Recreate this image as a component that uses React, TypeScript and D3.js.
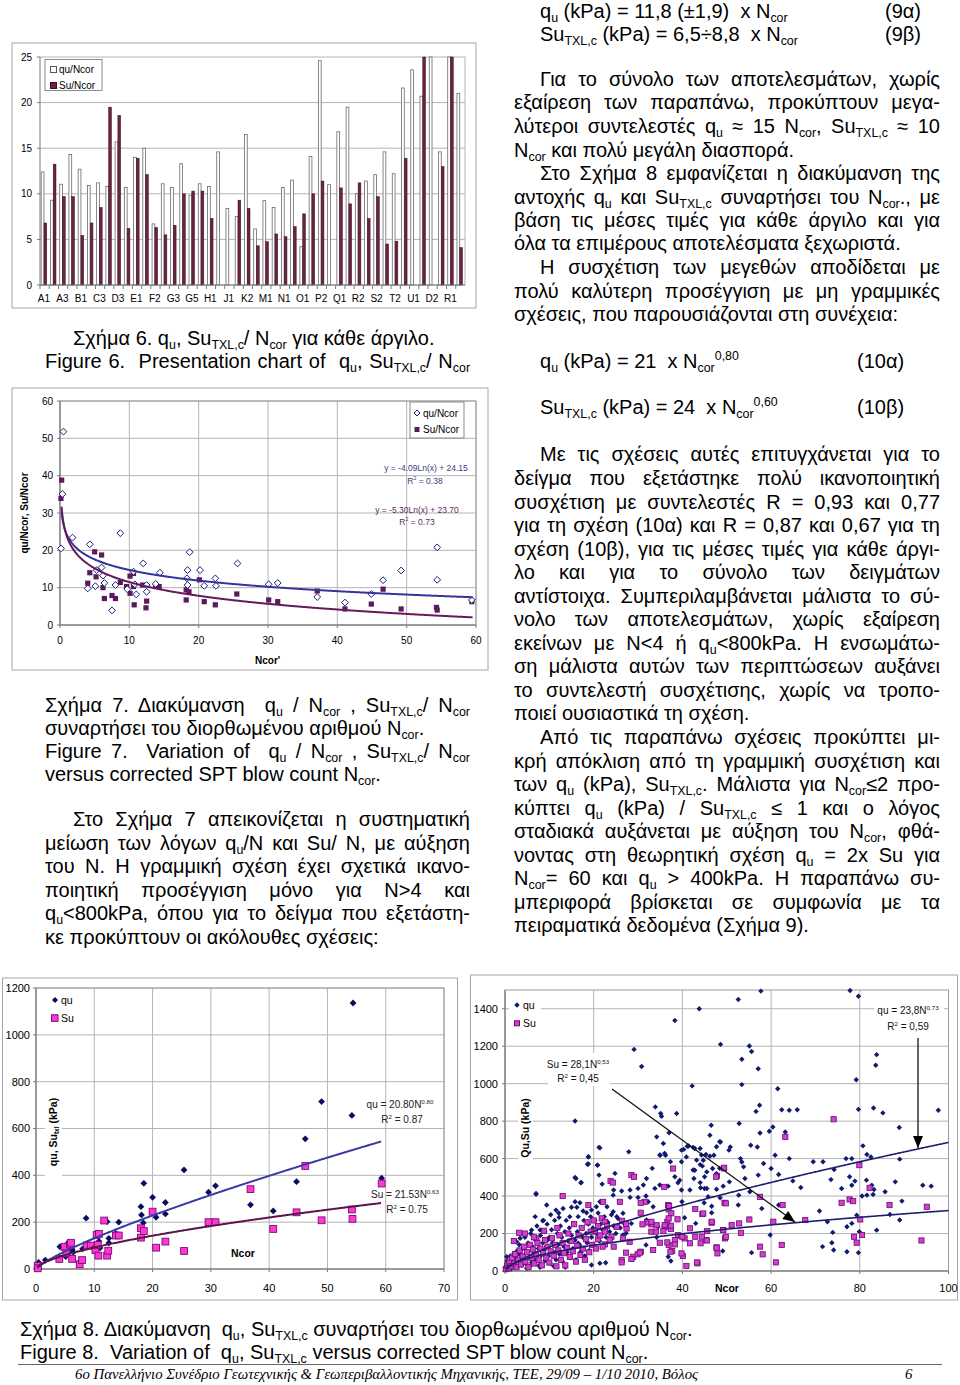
import React, { useEffect, useRef } from 'react';
import * as d3 from 'd3';

// ---------- Σχήμα 6: λόγοι ανά άργιλο (ετικέτα κάθε δεύτερη κατηγορία) ----------
const barCats = ['A1', 'A2', 'A3', 'A4', 'B1', 'B2', 'C3', 'C4', 'D3', 'D4', 'E1', 'E2', 'F2', 'F3', 'G3', 'G4', 'G5', 'G6', 'H1', 'H2', 'J1', 'J2', 'K2', 'K3', 'M1', 'M2', 'N1', 'N2', 'O1', 'O2', 'P2', 'P3', 'Q1', 'Q2', 'R2', 'R3', 'S2', 'S3', 'T2', 'T3', 'U1', 'U2', 'D2', 'D5', 'R1', 'R4'];
const barQuN = [12.4, 9.3, 11.05, 14.3, 12.7, 10.9, 11.2, 10.8, 15.7, 10.7, 14.0, 15.0, 6.7, 11.1, 10.7, 13.3, 9.85, 11.1, 10.8, 14.6, 8.4, 7.5, 16.5, 6.15, 9.25, 8.5, 10.7, 11.5, 4.2, 14.1, 24.6, 11.0, 16.8, 19.5, 10.0, 11.4, 12.1, 14.6, 12.2, 21.6, 23.6, 20.7, 28, 14.6, 27, 21.0];
const barSuN = [6.8, 13.25, 9.7, 9.7, 5.45, 6.8, 8.5, 19.5, 18.6, 6.2, 13.9, 12.1, 6.3, 5.5, 6.55, 10.0, 10.3, 10.3, 7.3, 0, 0, 9.3, 8.4, 4.3, 4.75, 5.6, 5.3, 6.4, 7.8, 10.0, 11.4, 0, 10.65, 8.9, 11.2, 7.3, 9.7, 4.5, 4.8, 13.9, 0, 28, 0, 13.0, 32, 4.1];
const ticks6Y = [0, 5, 10, 15, 20, 25];

// ---------- Σχήμα 7: qu/Ncor, Su/Ncor συναρτήσει Ncor ----------
const ratioQu: [number, number][] = [
  [0.5, 51.8], [0.35, 35.1], [0.15, 20.5], [1.8, 23.4], [4.3, 21.6], [4.0, 9.8], [5.1, 10.4], [5.3, 14.7], [6.0, 15.4], [6.2, 13.2],
  [6.4, 11.25], [7.5, 3.9], [8.0, 10.7], [8.7, 24.6], [9.7, 9.6], [10.6, 14.3], [10.8, 10.9], [11.0, 8.2], [12.0, 16.5], [12.5, 8.9],
  [12.5, 10.7], [13.8, 11.0], [14.4, 14.0], [18.4, 14.7], [18.4, 10.7], [18.3, 12.5], [18.7, 19.5], [20.2, 14.7], [20.8, 10.5], [22.4, 12.5],
  [22.5, 10.5], [25.6, 16.5], [30.1, 10.9], [31.4, 11.25], [37.1, 7.5], [41.1, 6.0], [44.9, 8.3], [46.6, 12.0], [49.2, 14.6], [54.4, 20.8],
  [54.4, 12.1], [59.4, 6.7],
];
const ratioSu: [number, number][] = [
  [0.24, 38.8], [0.14, 33.9], [4.3, 14.0], [4.0, 11.2], [5.0, 19.6], [5.2, 12.9], [6.0, 18.75], [6.2, 10.0], [6.4, 7.1], [7.5, 7.9],
  [8.0, 7.1], [8.7, 11.4], [9.6, 10.3], [10.1, 13.1], [10.1, 8.5], [10.6, 13.8], [10.6, 10.3], [10.7, 5.4], [11.9, 10.7], [12.4, 4.6],
  [12.5, 6.4], [13.8, 10.4], [14.3, 10.3], [18.2, 9.4], [18.2, 6.7], [18.6, 8.9], [20.1, 12.1], [20.8, 6.25], [22.4, 5.4], [25.5, 8.3],
  [30.1, 6.7], [31.4, 6.25], [37.1, 9.1], [41.1, 4.3], [44.9, 5.6], [46.6, 9.6], [49.2, 4.3], [54.3, 4.7], [54.4, 4.0], [59.4, 6.25],
];
const trend7Qu = [-4.09, 24.15];
const trend7Su = [-5.30, 23.70];
const ticks7 = [0, 10, 20, 30, 40, 50, 60];

// ---------- Σχήμα 8 (αριστερά): μέσες τιμές ανά άργιλο ----------
const qu8a: [number, number][] = [
  [0.45, 28], [0.35, 12], [0.15, 3], [1.6, 38], [4.0, 39], [4.1, 95], [5.1, 53], [5.2, 103], [5.3, 78], [5.5, 67],
  [6.1, 88], [6.2, 82], [6.4, 72], [7.5, 29], [8.0, 86], [8.6, 217], [9.7, 93], [10.6, 152], [10.8, 118], [11.0, 90],
  [12.2, 202], [12.5, 111], [12.5, 131], [13.7, 152], [14.2, 200], [18.0, 266], [18.1, 231], [18.4, 197], [18.5, 366], [20.0, 306],
  [20.6, 221], [22.2, 284], [22.2, 235], [25.4, 423], [29.6, 328], [30.8, 355], [36.8, 274], [40.7, 248], [44.7, 373], [46.2, 556],
  [49.0, 715], [54.2, 656], [54.4, 1136], [59.3, 388],
];
const su8a: [number, number][] = [
  [0.3, 14], [0.3, 3], [4.0, 43], [4.9, 95], [5.2, 67], [5.8, 105], [6.0, 112], [6.2, 43], [7.5, 20], [7.9, 38],
  [8.7, 100], [9.4, 100], [10.2, 81], [10.6, 103], [10.4, 145], [10.8, 150], [10.7, 57], [12.2, 57], [12.4, 78], [11.7, 207],
  [13.7, 143], [14.2, 143], [18.0, 134], [18.0, 174], [18.5, 162], [20.0, 245], [20.6, 91], [22.2, 117], [25.4, 77], [29.6, 200],
  [30.8, 200], [36.8, 341], [40.7, 171], [44.7, 242], [46.2, 440], [49.0, 208], [54.3, 214], [54.2, 254], [59.3, 365],
];
const trend8aQu = [20.80, 0.80];
const trend8aSu = [21.53, 0.63];
const ticks8aX = [0, 10, 20, 30, 40, 50, 60, 70];
const ticks8aY = [0, 200, 400, 600, 800, 1000, 1200];

// ---------- Σχήμα 8 (δεξιά): όλα τα επιμέρους αποτελέσματα ----------
const qu8b: [number, number][] = [
  [43.8, 1400], [38.3, 1337], [29.1, 1183], [30.8, 1092], [42.2, 988], [15.8, 801], [33.9, 876], [35.1, 841], [35.3, 826], [38.7, 841],
  [46.5, 778], [46.2, 725], [34.2, 716], [37.0, 738], [36.2, 618], [35.0, 618], [7.0, 410], [21.4, 657], [18.8, 609], [18.6, 570],
  [20.9, 565], [15.8, 499], [17.2, 472], [27.9, 636], [48.4, 690], [50.5, 645], [47.7, 663], [35.7, 681], [36.0, 628], [34.9, 619],
  [40.3, 649], [41.4, 667], [42.4, 660], [44.3, 619], [46.2, 613], [37.3, 583], [39.8, 583], [43.2, 592], [33.2, 548], [42.4, 539],
  [44.5, 560], [48.4, 548], [38.3, 503], [39.4, 485], [42.6, 494], [45.0, 503], [31.9, 494], [31.2, 459], [30.0, 441], [33.8, 441],
  [34.9, 459], [36.8, 453], [39.0, 471], [39.8, 432], [41.7, 432], [44.1, 444], [47.7, 436], [28.2, 432], [26.3, 427], [24.5, 432],
  [28.2, 393], [30.0, 393], [32.3, 370], [31.8, 400], [33.4, 343], [39.9, 370], [45.8, 396], [46.6, 311], [24.4, 316], [25.2, 290],
  [26.6, 308], [28.5, 254], [34.5, 236], [37.2, 228], [40.5, 284], [43.0, 254], [31.9, 272], [27.3, 201], [26.6, 192], [34.2, 180],
  [31.8, 139], [36.8, 76], [37.4, 53], [44.7, 591], [42.8, 538], [40.9, 609], [41.1, 666], [39.8, 645], [42.8, 654], [45.0, 440],
  [52.6, 1449], [57.7, 1494], [77.8, 1497], [79.7, 1467], [48.6, 1210], [55.1, 1201], [55.6, 1172], [53.4, 1130], [57.1, 1080], [83.8, 1155],
  [83.6, 1098], [53.4, 995], [61.5, 973], [79.2, 1021], [57.4, 885], [56.6, 852], [62.4, 861], [64.1, 858], [65.9, 861], [79.7, 863],
  [83.1, 870], [85.2, 844], [97.7, 858], [52.8, 787], [57.5, 737], [59.6, 746], [60.4, 769], [63.2, 742], [88.9, 766], [48.6, 689],
  [50.8, 662], [55.4, 671], [56.9, 662], [64.1, 600], [60.9, 618], [58.3, 574], [53.1, 600], [53.4, 582], [53.8, 556], [47.1, 618],
  [46.8, 547], [47.7, 520], [49.2, 453], [50.6, 476], [54.1, 494], [55.2, 423], [57.1, 512], [60.0, 547], [61.7, 515], [64.9, 481],
  [66.7, 446], [69.5, 583], [71.7, 583], [73.5, 488], [74.2, 542], [75.9, 440], [76.9, 600], [78.2, 600], [77.7, 503], [78.2, 458],
  [78.9, 480], [80.7, 668], [81.6, 622], [82.5, 609], [81.5, 485], [82.7, 458], [83.2, 435], [83.0, 408], [80.5, 400], [81.6, 405],
  [79.3, 298], [85.7, 423], [88.0, 476], [89.0, 597], [89.5, 373], [94.2, 458], [96.1, 453], [86.8, 302], [83.8, 218], [89.0, 272],
  [70.9, 320], [72.7, 263], [73.9, 206], [77.1, 236], [78.2, 254], [79.9, 210], [71.6, 130], [73.7, 151], [74.1, 112], [77.1, 103],
  [79.7, 98], [59.8, 192], [57.9, 334], [55.6, 98], [49.1, 107], [46.6, 346], [48.5, 391], [44.9, 364], [45.5, 529], [45.5, 440],
  [61.7, 352], [52.6, 352], [52.7, 405], [45.3, 622], [44.0, 654], [44.0, 568], [44.0, 472],
  [21.2, 660], [18.8, 610], [18.8, 571], [20.8, 565], [16.0, 494], [17.1, 471], [21.2, 512], [21.9, 464], [24.8, 521], [7.0, 414],
  [9.4, 352], [13.1, 334], [15.0, 340], [15.8, 370], [16.9, 364], [11.5, 325], [8.5, 268], [6.0, 219], [7.9, 219], [12.2, 286],
  [14.6, 290], [18.4, 311], [19.5, 325], [20.6, 343], [21.4, 370], [23.0, 343], [24.4, 405], [2.6, 156], [3.0, 94], [0.4, 76],
  [0, 16], [19.5, 32], [21.4, 41], [22.7, 44], [17.3, 112], [16.5, 148],
  [0.3, 30], [0.5, 55], [0.8, 20], [1.0, 45], [1.2, 80], [1.5, 35], [1.8, 60], [2.0, 95], [2.2, 25], [2.5, 70],
  [2.8, 110], [3.0, 50], [3.2, 140], [0.2, 5], [1.3, 10], [3.5, 85], [3.8, 30], [4.0, 120], [4.2, 65], [4.5, 180],
  [4.7, 40], [5.0, 100], [5.2, 150], [5.5, 75], [5.8, 200], [6.0, 45], [6.2, 130], [3.4, 175], [4.9, 15], [5.6, 25],
  [6.5, 95], [6.7, 170], [7.0, 60], [7.2, 240], [7.5, 120], [7.7, 30], [8.0, 190], [8.2, 85], [8.5, 150], [8.7, 270],
  [9.0, 55], [9.0, 210], [6.8, 290], [7.9, 20], [8.8, 110], [9.3, 130], [9.5, 250], [9.8, 80], [10.0, 180], [10.2, 40],
  [10.5, 220], [10.7, 150], [11.0, 100], [11.2, 270], [11.5, 60], [11.8, 200], [12.0, 140], [10.3, 300], [11.0, 25], [9.6, 165],
  [12.3, 90], [12.5, 240], [12.8, 180], [13.0, 50], [13.3, 130], [13.5, 210], [13.8, 270], [14.0, 100], [14.2, 160], [14.5, 230],
  [14.8, 70], [15.0, 190], [13.6, 20], [12.1, 310], [15.3, 120], [15.5, 250], [15.8, 165], [16.0, 60], [16.3, 210], [16.5, 290],
  [16.8, 140], [17.0, 100], [17.3, 230], [17.5, 180], [17.8, 270], [18.0, 80], [16.2, 340], [17.6, 320], [18.3, 200], [18.5, 150],
  [18.8, 250], [19.0, 110], [19.3, 290], [19.5, 180], [19.8, 230], [20.0, 140], [20.3, 270], [20.6, 200], [21.0, 310], [21.3, 160],
  [21.6, 250], [22.0, 220], [22.4, 290], [22.8, 180], [23.2, 260], [23.6, 210], [24.0, 300], [24.5, 240], [25.0, 200], [25.5, 280],
  [26.0, 230], [26.5, 170], [27.0, 250],
];
const su8b: [number, number][] = [
  [37.9, 547], [35.9, 449], [36.8, 352], [36.9, 329], [28.5, 512], [29.1, 503], [13.0, 400], [23.8, 481], [24.3, 472], [25.9, 369],
  [22.1, 369], [31.5, 369], [30.6, 364], [33.0, 249], [39.0, 192], [39.8, 186], [40.5, 174], [40.1, 80], [40.9, 27], [43.4, 41],
  [36.0, 233], [36.6, 263], [37.4, 224], [36.9, 139], [37.7, 107], [33.0, 210], [32.1, 259], [26.4, 268], [27.4, 227], [28.1, 156],
  [28.9, 76], [29.9, 89], [30.6, 103], [26.3, 59], [24.0, 183], [22.5, 142], [21.0, 169], [20.3, 213], [21.8, 281], [22.5, 263],
  [18.8, 352], [3.2, 204], [7.1, 174], [49.4, 548], [47.8, 508], [37.0, 347], [37.5, 308], [42.9, 331], [44.5, 304], [49.5, 364],
  [30.6, 311], [33.0, 263], [31.0, 249], [27.3, 251], [25.2, 236], [34.2, 245], [36.0, 245], [37.4, 242], [34.0, 210], [35.7, 213],
  [36.9, 281], [38.9, 276], [41.7, 228], [42.9, 183], [40.0, 183], [45.4, 165], [44.1, 148], [41.7, 148], [38.3, 165], [38.3, 142],
  [36.6, 153], [34.9, 151], [33.4, 112], [39.8, 94], [37.3, 103], [30.4, 98], [28.5, 64], [27.3, 98], [26.3, 46], [43.3, 46],
  [47.7, 126], [46.6, 258], [49.2, 219], [23.6, 165], [24.5, 130], [26.6, 174],
  [74.1, 810], [63.2, 716], [79.9, 565], [49.4, 551], [47.6, 503], [57.5, 396], [49.8, 361], [62.6, 352], [82.2, 444], [75.9, 364],
  [77.7, 382], [78.5, 373], [86.7, 352], [95.1, 343], [67.7, 272], [60.5, 263], [55.1, 275], [52.8, 254], [51.1, 245], [49.2, 218],
  [45.6, 213], [44.7, 307], [46.6, 263], [44.4, 183], [45.5, 163], [49.6, 174], [49.8, 183], [53.2, 204], [80.1, 275], [80.5, 192],
  [78.7, 183], [79.3, 151], [93.9, 163], [47.7, 124], [47.9, 94], [57.5, 130], [58.1, 89], [61.1, 46], [62.4, 139],
  [0.2, 10], [0.5, 30], [0.8, 15], [1.0, 50], [1.3, 25], [1.6, 70], [2.0, 40], [2.3, 90], [2.6, 20], [3.0, 60],
  [3.3, 110], [3.6, 35], [4.0, 80], [4.3, 130], [4.6, 50], [5.0, 100], [5.3, 20], [5.6, 140], [6.0, 70], [6.3, 115],
  [6.6, 40], [7.0, 90], [7.3, 150], [7.6, 60], [8.0, 120], [8.3, 30], [8.6, 95], [9.0, 165], [9.3, 70], [9.6, 130],
  [10.0, 45], [10.3, 105], [10.6, 175], [11.0, 80], [11.3, 140], [11.6, 25], [12.0, 110], [12.3, 190], [12.6, 60], [13.0, 150],
  [13.3, 95], [13.6, 30], [14.0, 125], [14.3, 200], [14.6, 75], [15.0, 160], [15.3, 105], [15.6, 250], [16.0, 50], [16.3, 135],
  [16.6, 190], [17.0, 85], [17.3, 230], [17.6, 120], [18.0, 60], [18.3, 170], [18.6, 260], [19.0, 100], [19.3, 210], [19.6, 140],
  [20.0, 270], [20.5, 120], [21.0, 240], [21.5, 190], [22.0, 130], [22.5, 210], [23.0, 240], [4.5, 200], [2.0, 160], [6.5, 180],
  [8.8, 215], [11.8, 230],
];
const trend8bQu = [23.8, 0.73];
const trend8bSu = [28.1, 0.53];
const ticks8bX = [0, 20, 40, 60, 80, 100];
const ticks8bY = [0, 200, 400, 600, 800, 1000, 1200, 1400];

const FONT = '"Liberation Sans", Arial, Helvetica, sans-serif';
const SERIF = '"Liberation Serif", "Times New Roman", serif';

// κείμενο σελίδας: [κείμενο, x, γραμμή βάσης, δεξί όριο στοίχισης]
type Line = [string, number, number, number?];
const rightCol: Line[] = [
  ['Για το σύνολο των αποτελεσμάτων, χωρίς', 540, 86, 940],
  ['εξαίρεση των παραπάνω, προκύπτουν μεγα-', 514, 109, 940],
  ['λύτεροι συντελεστές q_{u} ≈ 15 N_{cor}, Su_{TXL,c} ≈ 10', 514, 133, 940],
  ['N_{cor} και πολύ μεγάλη διασπορά.', 514, 157],
  ['Στο Σχήμα 8 εμφανίζεται η διακύμανση της', 540, 180, 940],
  ['αντοχής q_{u} και Su_{TXL,c} συναρτήσει του N_{cor}., με', 514, 204, 940],
  ['βάση τις μέσες τιμές για κάθε άργιλο και για', 514, 227, 940],
  ['όλα τα επιμέρους αποτελέσματα ξεχωριστά.', 514, 250],
  ['Η συσχέτιση των μεγεθών αποδίδεται με', 540, 274, 940],
  ['πολύ καλύτερη προσέγγιση με μη γραμμικές', 514, 298, 940],
  ['σχέσεις, που παρουσιάζονται στη συνέχεια:', 514, 321],
  ['Με τις σχέσεις αυτές επιτυγχάνεται για το', 540, 461, 940],
  ['δείγμα που εξετάστηκε πολύ ικανοποιητική', 514, 485, 940],
  ['συσχέτιση με συντελεστές R = 0,93 και 0,77', 514, 509, 940],
  ['για τη σχέση (10α) και R = 0,87 και 0,67 για τη', 514, 532, 940],
  ['σχέση (10β), για τις μέσες τιμές για κάθε άργι-', 514, 556, 940],
  ['λο και για το σύνολο των δειγμάτων', 514, 579, 940],
  ['αντίστοιχα. Συμπεριλαμβάνεται μάλιστα το σύ-', 514, 603, 940],
  ['νολο των αποτελεσμάτων, χωρίς εξαίρεση', 514, 626, 940],
  ['εκείνων με N<4 ή q_{u}<800kPa. Η ενσωμάτω-', 514, 650, 940],
  ['ση μάλιστα αυτών των περιπτώσεων αυξάνει', 514, 673, 940],
  ['το συντελεστή συσχέτισης, χωρίς να τροπο-', 514, 697, 940],
  ['ποιεί ουσιαστικά τη σχέση.', 514, 720],
  ['Από τις παραπάνω σχέσεις προκύπτει μι-', 540, 744, 940],
  ['κρή απόκλιση από τη γραμμική συσχέτιση και', 514, 768, 940],
  ['των q_{u} (kPa), Su_{TXL,c}. Μάλιστα για N_{cor}≤2 προ-', 514, 791, 940],
  ['κύπτει q_{u} (kPa) / Su_{TXL,c} ≤ 1 και ο λόγος', 514, 815, 940],
  ['σταδιακά αυξάνεται με αύξηση του N_{cor}, φθά-', 514, 838, 940],
  ['νοντας στη θεωρητική σχέση q_{u} = 2x Su για', 514, 862, 940],
  ['N_{cor}= 60 και q_{u} > 400kPa. Η παραπάνω συ-', 514, 885, 940],
  ['μπεριφορά βρίσκεται σε συμφωνία με τα', 514, 909, 940],
  ['πειραματικά δεδομένα (Σχήμα 9).', 514, 932],
];
const leftCol: Line[] = [
  ['Σχήμα 6. q_{u}, Su_{TXL,c}/ N_{cor} για κάθε άργιλο.', 73, 345],
  ['Figure 6.  Presentation chart of  q_{u}, Su_{TXL,c}/ N_{cor}', 45, 368, 470],
  ['Σχήμα 7. Διακύμανση  q_{u} / N_{cor} , Su_{TXL,c}/ N_{cor}', 45, 712, 470],
  ['συναρτήσει του διορθωμένου αριθμού N_{cor}.', 45, 735],
  ['Figure 7.  Variation of  q_{u} / N_{cor} , Su_{TXL,c}/ N_{cor}', 45, 758, 470],
  ['versus corrected SPT blow count N_{cor}.', 45, 781],
  ['Στο Σχήμα 7 απεικονίζεται η συστηματική', 73, 826, 470],
  ['μείωση των λόγων q_{u}/N και Su/ N, με αύξηση', 45, 850, 470],
  ['του N. Η γραμμική σχέση έχει σχετικά ικανο-', 45, 873, 470],
  ['ποιητική προσέγγιση μόνο για N>4 και', 45, 897, 470],
  ['q_{u}<800kPa, όπου για το δείγμα που εξετάστη-', 45, 920, 470],
  ['κε προκύπτουν οι ακόλουθες σχέσεις:', 45, 944],
  ['Σχήμα 8. Διακύμανση  q_{u}, Su_{TXL,c} συναρτήσει του διορθωμένου αριθμού N_{cor}.', 20, 1336],
  ['Figure 8.  Variation of  q_{u}, Su_{TXL,c} versus corrected SPT blow count N_{cor}.', 20, 1359],
];
const equations: Line[] = [
  ['q_{u} (kPa) = 11,8 (±1,9)  x N_{cor}', 540, 17.5],
  ['(9α)', 885, 17.5],
  ['Su_{TXL,c} (kPa) = 6,5÷8,8  x N_{cor}', 540, 41],
  ['(9β)', 885, 41],
  ['q_{u} (kPa) = 21  x N_{cor}^{0,80}', 540, 368],
  ['(10α)', 857, 368],
  ['Su_{TXL,c} (kPa) = 24  x N_{cor}^{0,60}', 540, 414],
  ['(10β)', 857, 414],
];

type Part = { t: string; k: 'n' | 'b' | 'p' };
function splitRich(s: string): Part[] {
  const out: Part[] = [];
  const re = /([_^])\{([^}]*)\}/g;
  let last = 0;
  let m: RegExpExecArray | null;
  while ((m = re.exec(s))) {
    if (m.index > last) out.push({ t: s.slice(last, m.index), k: 'n' });
    out.push({ t: m[2], k: m[1] === '_' ? 'b' : 'p' });
    last = re.lastIndex;
  }
  if (last < s.length) out.push({ t: s.slice(last), k: 'n' });
  return out;
}

interface RichOpts {
  size?: number; anchor?: string; width?: number; fill?: string;
  weight?: string | number; italic?: boolean; family?: string;
}

// κείμενο με δείκτες/εκθέτες, προαιρετικά πλήρως στοιχισμένο
function rich(parent: any, x: number, y: number, s: string, o: RichOpts = {}) {
  const size = o.size ?? 20;
  const t = parent.append('text')
    .attr('x', x).attr('y', y)
    .attr('font-family', o.family ?? FONT)
    .attr('font-size', size)
    .attr('fill', o.fill ?? '#000')
    .attr('text-anchor', o.anchor ?? 'start')
    .style('white-space', 'pre');
  if (o.weight) t.attr('font-weight', o.weight);
  if (o.italic) t.attr('font-style', 'italic');
  let shift = 0;
  splitRich(s).forEach(p => {
    const off = p.k === 'b' ? size * 0.2 : p.k === 'p' ? -size * 0.42 : 0;
    t.append('tspan')
      .attr('dy', off - shift)
      .attr('font-size', p.k === 'n' ? size : size * 0.62)
      .text(p.t);
    shift = off;
  });
  if (o.width) {
    const w = (t.node() as SVGTextElement).getComputedTextLength();
    const n = (s.match(/ /g) || []).length;
    if (n > 0) t.attr('word-spacing', (o.width - w) / n);
  }
  return t;
}

const diamond = (r: number) => `M0,${-r}L${r},0L0,${r}L${-r},0Z`;

// πλέγμα, άξονες και ετικέτες για τα διαγράμματα διασποράς
function frame(g: any, x: any, y: any, xt: number[], yt: number[], o: { size: number; yPad: number; xLabelY: number }) {
  const [x0, x1] = x.range();
  const [y0, y1] = y.range();
  yt.forEach(v => g.append('line').attr('x1', x0).attr('x2', x1).attr('y1', y(v)).attr('y2', y(v)).attr('stroke', '#b4b4b4'));
  xt.forEach(v => g.append('line').attr('x1', x(v)).attr('x2', x(v)).attr('y1', y0).attr('y2', y1).attr('stroke', '#b4b4b4'));
  g.append('rect').attr('x', x0).attr('y', y1).attr('width', x1 - x0).attr('height', y0 - y1)
    .attr('fill', 'none').attr('stroke', '#9a9a9a');
  g.append('line').attr('x1', x0).attr('x2', x0).attr('y1', y1).attr('y2', y0).attr('stroke', '#7a7a7a');
  g.append('line').attr('x1', x0).attr('x2', x1).attr('y1', y0).attr('y2', y0).attr('stroke', '#7a7a7a');
  yt.forEach(v => {
    g.append('line').attr('x1', x0 - 3).attr('x2', x0).attr('y1', y(v)).attr('y2', y(v)).attr('stroke', '#7a7a7a');
    g.append('text').attr('x', x0 - o.yPad).attr('y', y(v) + o.size * 0.36).attr('text-anchor', 'end')
      .attr('font-family', FONT).attr('font-size', o.size).text(v);
  });
  xt.forEach(v => {
    g.append('line').attr('x1', x(v)).attr('x2', x(v)).attr('y1', y0).attr('y2', y0 + 3).attr('stroke', '#7a7a7a');
    g.append('text').attr('x', x(v)).attr('y', o.xLabelY).attr('text-anchor', 'middle')
      .attr('font-family', FONT).attr('font-size', o.size).text(v);
  });
}

function whiteBox(g: any, x: number, y: number, w: number, h: number) {
  g.append('rect').attr('x', x).attr('y', y).attr('width', w).attr('height', h).attr('fill', '#fff');
}

function arrow(g: any, xa: number, ya: number, xb: number, yb: number) {
  g.append('line').attr('x1', xa).attr('y1', ya).attr('x2', xb).attr('y2', yb)
    .attr('stroke', '#111').attr('stroke-width', 1.3);
  const ang = Math.atan2(yb - ya, xb - xa);
  const L = 12, W = 5;
  const p = [
    [xb, yb],
    [xb - L * Math.cos(ang) + W * Math.sin(ang), yb - L * Math.sin(ang) - W * Math.cos(ang)],
    [xb - L * Math.cos(ang) - W * Math.sin(ang), yb - L * Math.sin(ang) + W * Math.cos(ang)],
  ];
  g.append('path').attr('d', `M${p.map(q => q.join(',')).join('L')}Z`).attr('fill', '#000');
}

export default function App() {
  const ref = useRef<SVGSVGElement>(null);

  useEffect(() => {
    if (!ref.current) return;
    const svg = d3.select(ref.current);
    svg.selectAll('*').remove();
    svg.append('rect').attr('width', 960).attr('height', 1385).attr('fill', '#fff');

    // ===== Σχήμα 6 =====
    const g6 = svg.append('g');
    g6.append('rect').attr('x', 12).attr('y', 43).attr('width', 464).attr('height', 265)
      .attr('fill', '#fff').attr('stroke', '#a6a6a6');
    const x6 = d3.scaleBand<string>().domain(barCats).range([40, 465]);
    const y6 = d3.scaleLinear().domain([0, 25]).range([285, 57]);
    ticks6Y.forEach(v => {
      g6.append('line').attr('x1', 40).attr('x2', 465).attr('y1', y6(v)).attr('y2', y6(v)).attr('stroke', '#b4b4b4');
      g6.append('line').attr('x1', 37).attr('x2', 40).attr('y1', y6(v)).attr('y2', y6(v)).attr('stroke', '#7a7a7a');
      g6.append('text').attr('x', 32).attr('y', y6(v) + 3.6).attr('text-anchor', 'end')
        .attr('font-family', FONT).attr('font-size', 10).text(v);
    });
    g6.append('line').attr('x1', 465).attr('x2', 465).attr('y1', 57).attr('y2', 285).attr('stroke', '#b4b4b4');
    const bw = x6.bandwidth();
    barCats.forEach((c, i) => {
      const bx = x6(c)!;
      const q = Math.min(barQuN[i], 25);
      const s = Math.min(barSuN[i], 25);
      g6.append('rect').attr('x', bx + bw * 0.13).attr('y', y6(q)).attr('width', bw * 0.3).attr('height', y6(0) - y6(q))
        .attr('fill', '#fff').attr('stroke', '#6a6a6a').attr('stroke-width', 0.8);
      if (s > 0) {
        g6.append('rect').attr('x', bx + bw * 0.43).attr('y', y6(s)).attr('width', bw * 0.3).attr('height', y6(0) - y6(s))
          .attr('fill', '#6b2343').attr('stroke', '#3a1020').attr('stroke-width', 0.5);
      }
      g6.append('line').attr('x1', bx).attr('x2', bx).attr('y1', 285).attr('y2', 289).attr('stroke', '#7a7a7a');
      if (i % 2 === 0) {
        g6.append('text').attr('x', bx + bw * 0.43).attr('y', 302).attr('text-anchor', 'middle')
          .attr('font-family', FONT).attr('font-size', 10).text(c);
      }
    });
    g6.append('line').attr('x1', 40).attr('x2', 40).attr('y1', 57).attr('y2', 285).attr('stroke', '#7a7a7a');
    g6.append('line').attr('x1', 40).attr('x2', 465).attr('y1', 285).attr('y2', 285).attr('stroke', '#7a7a7a');
    g6.append('rect').attr('x', 45).attr('y', 59.5).attr('width', 57).attr('height', 31)
      .attr('fill', '#fff').attr('stroke', '#8a8a8a');
    g6.append('rect').attr('x', 50.5).attr('y', 66.5).attr('width', 6).attr('height', 6).attr('fill', '#fff').attr('stroke', '#555');
    g6.append('rect').attr('x', 50.5).attr('y', 82.5).attr('width', 6).attr('height', 6).attr('fill', '#6b2343').attr('stroke', '#3a1020');
    g6.append('text').attr('x', 59).attr('y', 72.5).attr('font-family', FONT).attr('font-size', 10).text('qu/Ncor');
    g6.append('text').attr('x', 59).attr('y', 88.5).attr('font-family', FONT).attr('font-size', 10).text('Su/Ncor');

    // ===== Σχήμα 7 =====
    const g7 = svg.append('g');
    g7.append('rect').attr('x', 12).attr('y', 388).attr('width', 476).attr('height', 282)
      .attr('fill', '#fff').attr('stroke', '#a6a6a6');
    const x7 = d3.scaleLinear().domain([0, 60]).range([60, 476]);
    const y7 = d3.scaleLinear().domain([0, 60]).range([625, 401]);
    frame(g7, x7, y7, ticks7, ticks7, { size: 10, yPad: 7, xLabelY: 644 });
    ratioSu.forEach(([n, v]) => g7.append('rect').attr('x', x7(n) - 2.6).attr('y', y7(v) - 2.6)
      .attr('width', 5.2).attr('height', 5.2).attr('fill', '#5a1a5c'));
    ratioQu.forEach(([n, v]) => g7.append('path').attr('d', diamond(3.4))
      .attr('transform', `translate(${x7(n)},${y7(v)})`).attr('fill', '#fff').attr('stroke', '#1c1c78').attr('stroke-width', 1));
    const nn7 = d3.range(0.22, 59.6, 0.1);
    const ln7 = (c: number[]) => d3.line<number>().x(n => x7(n)).y(n => y7(c[0] * Math.log(n) + c[1]));
    g7.append('path').attr('d', ln7(trend7Qu)(nn7)).attr('fill', 'none').attr('stroke', '#34349a').attr('stroke-width', 2);
    g7.append('path').attr('d', ln7(trend7Su)(nn7)).attr('fill', 'none').attr('stroke', '#661a5e').attr('stroke-width', 2);
    g7.append('rect').attr('x', 410).attr('y', 402).attr('width', 54).attr('height', 36)
      .attr('fill', '#fff').attr('stroke', '#8a8a8a');
    g7.append('path').attr('d', diamond(3)).attr('transform', 'translate(417,413)').attr('fill', '#fff').attr('stroke', '#1c1c78');
    g7.append('rect').attr('x', 414.5).attr('y', 427).attr('width', 5).attr('height', 5).attr('fill', '#5a1a5c');
    g7.append('text').attr('x', 423).attr('y', 416.5).attr('font-family', FONT).attr('font-size', 10).text('qu/Ncor');
    g7.append('text').attr('x', 423).attr('y', 433).attr('font-family', FONT).attr('font-size', 10).text('Su/Ncor');
    rich(g7, 426, 471, 'y = -4.09Ln(x) + 24.15', { size: 8.5, anchor: 'middle', fill: '#3c3c80' });
    rich(g7, 425, 483.5, 'R^{2} = 0.38', { size: 8.5, anchor: 'middle', fill: '#3c3c80' });
    rich(g7, 417, 513, 'y = -5.30Ln(x) + 23.70', { size: 8.5, anchor: 'middle', fill: '#5c2a5c' });
    rich(g7, 417, 525, 'R^{2} = 0.73', { size: 8.5, anchor: 'middle', fill: '#5c2a5c' });
    g7.append('text').attr('x', 255).attr('y', 664).attr('font-family', FONT).attr('font-size', 10)
      .attr('font-weight', 'bold').text("Ncor'");
    g7.append('text').attr('transform', 'translate(28,513) rotate(-90)').attr('text-anchor', 'middle')
      .attr('font-family', FONT).attr('font-size', 10).attr('font-weight', 'bold').text('qu/Ncor, Su/Ncor');

    // ===== Σχήμα 8 αριστερά =====
    const g8 = svg.append('g');
    g8.append('rect').attr('x', 2.5).attr('y', 978).attr('width', 455).attr('height', 322)
      .attr('fill', '#fff').attr('stroke', '#a6a6a6');
    const x8 = d3.scaleLinear().domain([0, 70]).range([36, 444]);
    const y8 = d3.scaleLinear().domain([0, 1200]).range([1269, 988]);
    frame(g8, x8, y8, ticks8aX, ticks8aY, { size: 11, yPad: 6, xLabelY: 1292 });
    whiteBox(g8, 45, 1088, 17, 88);
    whiteBox(g8, 226, 1242, 34, 16);
    const nn8 = d3.range(0.2, 59.4, 0.2);
    const pw8 = (c: number[]) => d3.line<number>().x(n => x8(n)).y(n => y8(c[0] * Math.pow(n, c[1])));
    qu8a.forEach(([n, v]) => g8.append('path').attr('d', diamond(3.4))
      .attr('transform', `translate(${x8(n)},${y8(v)})`).attr('fill', '#0c0c5e'));
    su8a.forEach(([n, v]) => g8.append('rect').attr('x', x8(n) - 3.4).attr('y', y8(v) - 3.4)
      .attr('width', 6.8).attr('height', 6.8).attr('fill', '#ff38d2').attr('stroke', '#7a0a78').attr('stroke-width', 0.9));
    g8.append('path').attr('d', pw8(trend8aQu)(nn8)).attr('fill', 'none').attr('stroke', '#3b3ba6').attr('stroke-width', 2);
    g8.append('path').attr('d', pw8(trend8aSu)(nn8)).attr('fill', 'none').attr('stroke', '#5e1448').attr('stroke-width', 2);
    g8.append('path').attr('d', diamond(3)).attr('transform', 'translate(55,1000)').attr('fill', '#0c0c5e');
    g8.append('rect').attr('x', 51.5).attr('y', 1014.8).attr('width', 6.5).attr('height', 6.5)
      .attr('fill', '#ff38d2').attr('stroke', '#7a0a78');
    g8.append('text').attr('x', 61).attr('y', 1004).attr('font-family', FONT).attr('font-size', 10.5).text('qu');
    g8.append('text').attr('x', 61).attr('y', 1022).attr('font-family', FONT).attr('font-size', 10.5).text('Su');
    const t8y = g8.append('g').attr('transform', 'translate(57,1132) rotate(-90)');
    rich(t8y, 0, 0, 'qu, Su_{txl} (kPa)', { size: 10.5, anchor: 'middle', weight: 'bold' });
    g8.append('text').attr('x', 243).attr('y', 1257).attr('text-anchor', 'middle').attr('font-family', FONT)
      .attr('font-size', 10.5).attr('font-weight', 'bold').text('Ncor');
    rich(g8, 400, 1108, 'qu = 20.80N^{0.80}', { size: 10, anchor: 'middle', fill: '#222' });
    rich(g8, 402, 1123, 'R^{2} = 0.87', { size: 10, anchor: 'middle', fill: '#222' });
    rich(g8, 405, 1198, 'Su = 21.53N^{0.63}', { size: 10, anchor: 'middle', fill: '#222' });
    rich(g8, 407, 1213, 'R^{2} = 0.75', { size: 10, anchor: 'middle', fill: '#222' });

    // ===== Σχήμα 8 δεξιά =====
    const g9 = svg.append('g');
    g9.append('rect').attr('x', 470.5).attr('y', 975).attr('width', 487).attr('height', 325)
      .attr('fill', '#fff').attr('stroke', '#a6a6a6');
    const x9 = d3.scaleLinear().domain([0, 100]).range([505, 948.5]);
    const y9 = d3.scaleLinear().domain([0, 1500]).range([1271, 990]);
    frame(g9, x9, y9, ticks8bX, ticks8bY, { size: 11, yPad: 7, xLabelY: 1292 });
    whiteBox(g9, 509, 996, 32, 36);
    whiteBox(g9, 518, 1090, 15, 78);
    whiteBox(g9, 548, 1053, 62, 33);
    whiteBox(g9, 874, 1001, 70, 33);
    const nn9 = d3.range(0.2, 100.01, 0.2);
    const pw9 = (c: number[]) => d3.line<number>().x(n => x9(n)).y(n => y9(c[0] * Math.pow(n, c[1])));
    qu8b.forEach(([n, v]) => g9.append('path').attr('d', diamond(2.7))
      .attr('transform', `translate(${x9(n)},${y9(v)})`).attr('fill', '#101a70'));
    su8b.forEach(([n, v]) => g9.append('rect').attr('x', x9(n) - 2.6).attr('y', y9(v) - 2.6)
      .attr('width', 5.2).attr('height', 5.2).attr('fill', '#d23fd2').attr('stroke', '#6c0a6c').attr('stroke-width', 0.8));
    g9.append('path').attr('d', pw9(trend8bQu)(nn9)).attr('fill', 'none').attr('stroke', '#1e1e6e').attr('stroke-width', 1.6);
    g9.append('path').attr('d', pw9(trend8bSu)(nn9)).attr('fill', 'none').attr('stroke', '#1e1e6e').attr('stroke-width', 1.6);
    g9.append('path').attr('d', diamond(2.7)).attr('transform', 'translate(517,1005)').attr('fill', '#101a70');
    g9.append('rect').attr('x', 514.5).attr('y', 1020.8).attr('width', 5).attr('height', 5)
      .attr('fill', '#d23fd2').attr('stroke', '#6c0a6c');
    g9.append('text').attr('x', 523).attr('y', 1009).attr('font-family', FONT).attr('font-size', 10.5).text('qu');
    g9.append('text').attr('x', 523).attr('y', 1027).attr('font-family', FONT).attr('font-size', 10.5).text('Su');
    g9.append('text').attr('transform', 'translate(529,1128) rotate(-90)').attr('text-anchor', 'middle')
      .attr('font-family', FONT).attr('font-size', 10.5).attr('font-weight', 'bold').text('Qu,Su (kPa)');
    g9.append('text').attr('x', 727).attr('y', 1292).attr('text-anchor', 'middle').attr('font-family', FONT)
      .attr('font-size', 10.5).attr('font-weight', 'bold').text('Ncor');
    rich(g9, 578, 1068, 'Su = 28,1N^{0,53}', { size: 10, anchor: 'middle', fill: '#111' });
    rich(g9, 578, 1082, 'R^{2} = 0,45', { size: 10, anchor: 'middle', fill: '#111' });
    rich(g9, 908, 1014, 'qu = 23,8N^{0,73}', { size: 10, anchor: 'middle', fill: '#111' });
    rich(g9, 908, 1030, 'R^{2} = 0,59', { size: 10, anchor: 'middle', fill: '#111' });
    arrow(g9, 612, 1089, 795, 1222);
    arrow(g9, 918, 1038, 918, 1148);

    // ===== κείμενο σελίδας =====
    const gt = svg.append('g');
    [...rightCol, ...leftCol].forEach(([s, x, y, x2]) => {
      rich(gt, x, y, s, { size: 20, width: x2 ? x2 - x : undefined });
    });
    equations.forEach(([s, x, y]) => rich(gt, x, y, s, { size: 20 }));
    gt.append('line').attr('x1', 18).attr('x2', 942).attr('y1', 1364.5).attr('y2', 1364.5)
      .attr('stroke', '#000').attr('stroke-width', 0.6);
    rich(gt, 75, 1379, '6ο Πανελλήνιο Συνέδριο Γεωτεχνικής & Γεωπεριβαλλοντικής Μηχανικής, ΤΕΕ, 29/09 – 1/10 2010, Βόλος',
      { size: 14.8, italic: true, family: SERIF });
    rich(gt, 905, 1379, '6', { size: 14.8, italic: true, family: SERIF });
  }, []);

  return (
    <svg
      ref={ref}
      width={960}
      height={1385}
      viewBox="0 0 960 1385"
      style={{ position: 'absolute', left: 0, top: 0, display: 'block' }}
    />
  );
}
